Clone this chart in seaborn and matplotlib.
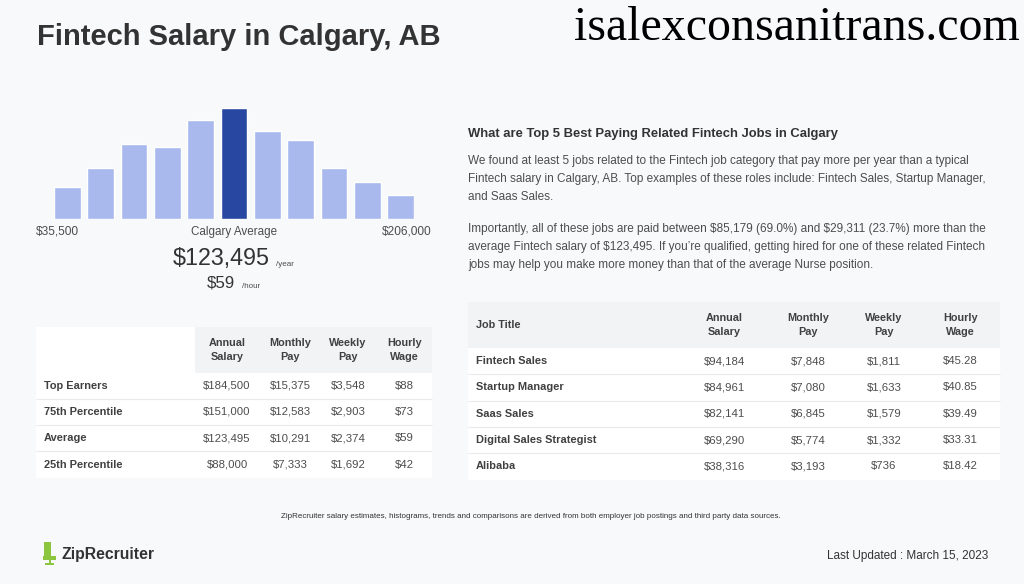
import numpy as np
import pandas as pd
import matplotlib
matplotlib.use('Agg')
import matplotlib.pyplot as plt
import seaborn as sns
from matplotlib.patches import Rectangle

# histogram of salaries (relative bar heights)
hist_counts = [31.7, 50.7, 75, 72.3, 99, 110.7, 88, 79.3, 51.3, 37, 23.7]
highlight_bin = 5

# left table: salary percentiles
pct_labels = ['Top Earners', '75th Percentile', 'Average', '25th Percentile']
pct_annual = [184500, 151000, 123495, 88000]
pct_monthly = [15375, 12583, 10291, 7333]
pct_weekly = [3548, 2903, 2374, 1692]
pct_hourly = [88, 73, 59, 42]

# right table: related jobs
job_titles = ['Fintech Sales', 'Startup Manager', 'Saas Sales', 'Digital Sales Strategist', 'Alibaba']
job_annual = [94184, 84961, 82141, 69290, 38316]
job_monthly = [7848, 7080, 6845, 5774, 3193]
job_weekly = [1811, 1633, 1579, 1332, 736]
job_hourly = [45.28, 40.85, 39.49, 33.31, 18.42]

col_headers = ['Annual\nSalary', 'Monthly\nPay', 'Weekly\nPay', 'Hourly\nWage']

sns.set_theme(style='white')
plt.rcParams['font.family'] = ['Liberation Sans', 'DejaVu Sans']

BG = '#f8f9fb'
HEAD_BG = '#f2f3f5'
LINE = '#e8eaed'
DARK = '#333333'
HEAD = '#404040'
TXT = '#4d4d4d'


def money(v, dec=0):
    return r'\$' + f'{v:,.{dec}f}'


fig = plt.figure(figsize=(10.24, 5.84), dpi=100, facecolor=BG)
ax = fig.add_axes([0, 0, 1, 1])
ax.set_xlim(0, 1024)
ax.set_ylim(584, 0)
ax.axis('off')

# titles
ax.text(37, 37, 'Fintech Salary in Calgary, AB', fontsize=21, fontweight='bold',
        color=DARK, va='center', ha='left')
ax.text(1020, 28, 'isalexconsanitrans.com', fontsize=34.5, color='black', va='center', ha='right',
        family=['Liberation Serif', 'DejaVu Serif'])

# histogram
hax = fig.add_axes([54 / 1024, (584 - 219) / 584, 360 / 1024, 111 / 584])
hist_df = pd.DataFrame({'bin': range(len(hist_counts)), 'count': hist_counts})
colors = ['#2847a1' if i == highlight_bin else '#a9b9ee' for i in range(len(hist_counts))]
sns.barplot(data=hist_df, x='bin', y='count', hue='bin', palette=colors, legend=False,
            width=0.8, saturation=1, ax=hax)
hax.set_xlim(-0.4, len(hist_counts) - 0.6)
hax.set_ylim(0, 111)
hax.axis('off')
hax.patch.set_alpha(0)

ax.text(36, 232, money(35500), fontsize=8.6, color=TXT, va='center', ha='left')
ax.text(234, 232, 'Calgary Average', fontsize=8.4, color=TXT, va='center', ha='center')
ax.text(432, 232, money(206000), fontsize=8.6, color=TXT, va='center', ha='right')
ax.text(221, 259, money(pct_annual[2]), fontsize=16.8, color=DARK, va='center', ha='center')
ax.text(276, 265, '/year', fontsize=5.8, color=TXT, va='center', ha='left')
ax.text(221, 283, money(pct_hourly[2]), fontsize=12.2, color=DARK, va='center', ha='center')
ax.text(242, 286, '/hour', fontsize=5.8, color=TXT, va='center', ha='left')


def draw_table(x0, x1, y0, head_h, row_h, labels, cols, col_x, first_head, first_white):
    # header band
    ax.add_patch(Rectangle((x0, y0), x1 - x0, head_h, facecolor=HEAD_BG, edgecolor='none'))
    if first_white:
        ax.add_patch(Rectangle((x0, y0), col_x[0] - 32 - x0, head_h, facecolor='white', edgecolor='none'))
    n = len(labels)
    ax.add_patch(Rectangle((x0, y0 + head_h), x1 - x0, row_h * n, facecolor='white', edgecolor='none'))
    hy = y0 + head_h / 2
    if first_head:
        ax.text(x0 + 8, hy, first_head, fontsize=7.8, fontweight='bold', color=HEAD, va='center')
    for cx, h in zip(col_x, col_headers):
        ax.text(cx, hy, h, fontsize=7.8, fontweight='bold', color=HEAD, va='center', ha='center',
                linespacing=1.5)
    for i, lab in enumerate(labels):
        ry = y0 + head_h + row_h * (i + 0.5)
        if i > 0:
            ax.hlines(y0 + head_h + row_h * i, x0, x1, color=LINE, lw=0.8)
        ax.text(x0 + 8, ry, lab, fontsize=7.9, fontweight='bold', color=HEAD, va='center')
        for cx, (vals, dec) in zip(col_x, cols):
            ax.text(cx, ry, money(vals[i], dec), fontsize=8.2, color=TXT, va='center', ha='center')


draw_table(36, 432, 327, 45.5, 26.3, pct_labels,
           [(pct_annual, 0), (pct_monthly, 0), (pct_weekly, 0), (pct_hourly, 0)],
           [227, 290, 348, 404], None, True)

draw_table(468, 1000, 302, 46, 26.3, job_titles,
           [(job_annual, 0), (job_monthly, 0), (job_weekly, 0), (job_hourly, 2)],
           [724, 808, 884, 960], 'Job Title', False)

# related jobs text
ax.text(468, 134, 'What are Top 5 Best Paying Related Fintech Jobs in Calgary', fontsize=9.4,
        fontweight='bold', color=DARK, va='center')
para1 = ['We found at least 5 jobs related to the Fintech job category that pay more per year than a typical',
         'Fintech salary in Calgary, AB. Top examples of these roles include: Fintech Sales, Startup Manager,',
         'and Saas Sales.']
para2 = [r'Importantly, all of these jobs are paid between \$85,179 (69.0%) and \$29,311 (23.7%) more than the',
         r'average Fintech salary of \$123,495. If you’re qualified, getting hired for one of these related Fintech',
         'jobs may help you make more money than that of the average Nurse position.']
for i, line in enumerate(para1):
    ax.text(468, 161 + 18 * i, line, fontsize=8.45, color=TXT, va='center')
for i, line in enumerate(para2):
    ax.text(468, 229 + 18 * i, line, fontsize=8.45, color=TXT, va='center')

# footer
ax.text(531, 516, 'ZipRecruiter salary estimates, histograms, trends and comparisons are derived from both '
        'employer job postings and third party data sources.', fontsize=5.8, color=DARK,
        va='center', ha='center')
ax.text(988, 556, 'Last Updated : March 15, 2023', fontsize=8.5, color=DARK, va='center', ha='right')

# ZipRecruiter logo: little green chair + word mark
green = '#8cc63f'
ax.add_patch(Rectangle((44, 542), 7, 14, facecolor=green, edgecolor='none'))
ax.add_patch(Rectangle((43, 556), 13, 4, facecolor=green, edgecolor='none'))
ax.add_patch(Rectangle((48.5, 560), 2, 3.5, facecolor=green, edgecolor='none'))
ax.add_patch(Rectangle((45, 563), 9, 1.5, facecolor=green, edgecolor='none'))
ax.text(62, 554, 'ZipRecruiter', fontsize=11.3, fontweight='bold', color=DARK, va='center', ha='left')

fig.savefig('out.png', dpi=100, facecolor=BG)
